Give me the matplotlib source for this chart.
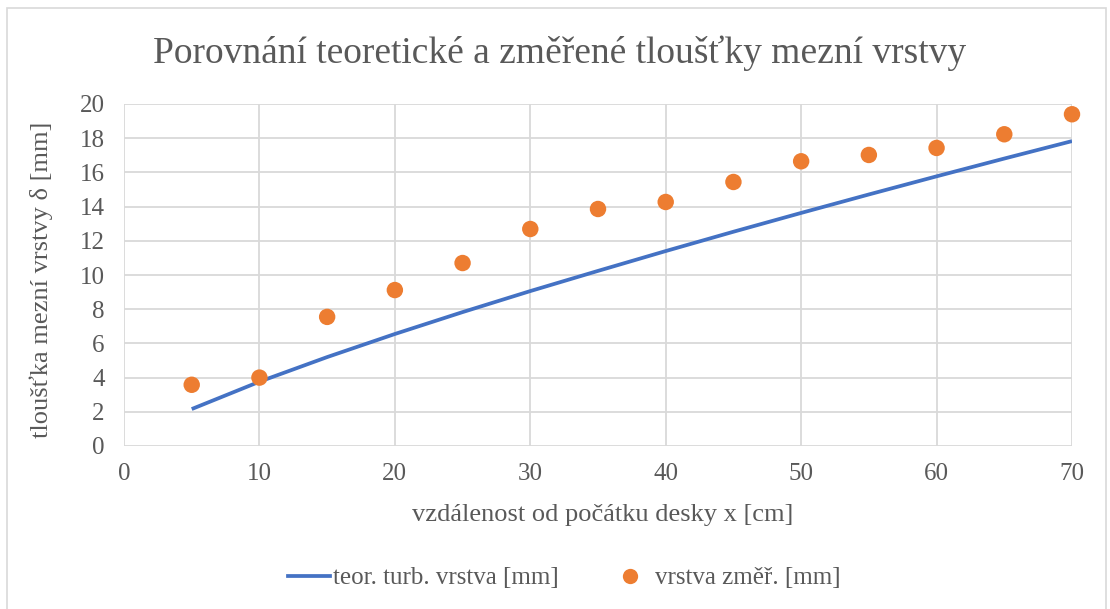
import matplotlib.pyplot as plt
from matplotlib.lines import Line2D
from matplotlib.patches import Rectangle

plt.rcParams['font.family'] = ['Liberation Serif', 'DejaVu Serif']

# vzdálenost od počátku desky [cm]
x_cm = [5, 10, 15, 20, 25, 30, 35, 40, 45, 50, 55, 60, 65, 70]
# teoretická tloušťka turbulentní vrstvy [mm]
delta_teor = [2.16, 3.76, 5.20, 6.55, 7.83, 9.06, 10.24, 11.40, 12.53, 13.63, 14.71, 15.77, 16.81, 17.83]
# změřená tloušťka [mm]
delta_zmer = [3.58, 4.0, 7.55, 9.12, 10.7, 12.69, 13.86, 14.27, 15.44, 16.65, 17.02, 17.43, 18.23, 19.4]

txt = '#595959'
grid = '#d9d9d9'

fig = plt.figure(figsize=(11.1, 6.09), dpi=100)
fig.patches.append(Rectangle((7 / 1110, -0.1), 1099 / 1110, 1.1 - 8 / 609,
                             transform=fig.transFigure, fill=False,
                             edgecolor='#d9d9d9', linewidth=1.2))
ax = fig.add_axes([124 / 1110, 1 - 446 / 609, 948 / 1110, 342 / 609])

ax.plot(x_cm, delta_teor, color='#4472C4', linewidth=2.7, solid_capstyle='butt', zorder=3)
ax.scatter(x_cm, delta_zmer, s=140, color='#ED7D31', edgecolors='none', zorder=4, clip_on=False)

ax.set_xlim(0, 70)
ax.set_ylim(0, 20)
ax.set_xticks(range(0, 71, 10))
ax.set_yticks(range(0, 21, 2))
ax.grid(True, color=grid, linewidth=1.3)
ax.set_axisbelow(True)
for s in ax.spines.values():
    s.set_visible(False)
ax.tick_params(length=0, labelsize=18, labelcolor=txt)
ax.tick_params(axis='x', pad=12)
ax.tick_params(axis='y', pad=14)

ax.set_xlabel('vzdálenost od počátku desky x [cm]', fontsize=19, color=txt, va='center')
ax.xaxis.set_label_coords(0.505, (446 - 515) / 342)
ax.set_ylabel('tloušťka mezní vrstvy δ [mm]', fontsize=19, color=txt, va='center')
ax.yaxis.set_label_coords((41 - 124) / 948, 0.485)
fig.text(560 / 1110, 1 - 53 / 609, 'Porovnání teoretické a změřené tloušťky mezní vrstvy',
         ha='center', va='center', fontsize=27, color=txt)

handles = [Line2D([], [], color='#4472C4', linewidth=2.7),
           Line2D([], [], marker='o', linestyle='none', color='#ED7D31',
                  markersize=11, markeredgewidth=0)]
fig.legend(handles, ['teor. turb. vrstva [mm]', 'vrstva změř. [mm]'],
           loc='center', bbox_to_anchor=(564 / 1110, 1 - 578 / 609), ncol=2,
           frameon=False, fontsize=18, labelcolor=txt, handlelength=1.7,
           handletextpad=0.12, columnspacing=2.0)

fig.savefig('out.png', dpi=100)
